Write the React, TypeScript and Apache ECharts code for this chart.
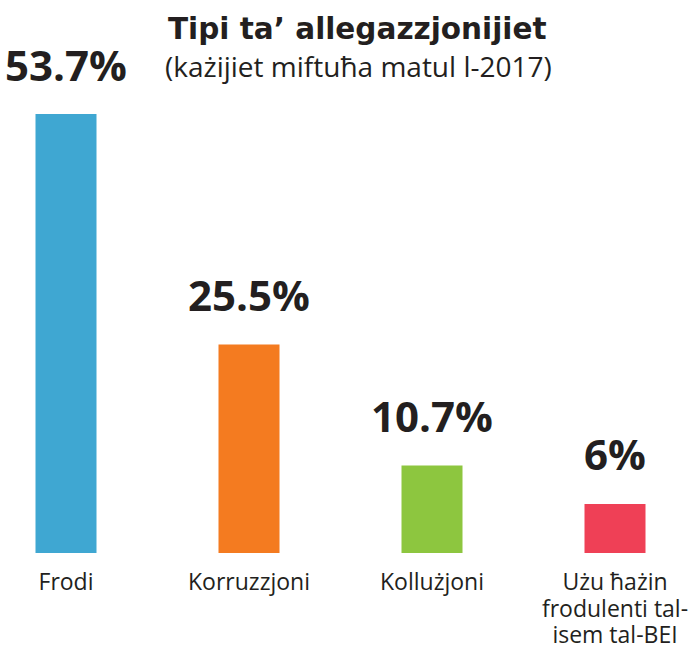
import React, { useEffect, useRef } from "react";
import * as echarts from "echarts";

const categories = ["Frodi", "Korruzzjoni", "Kollużjoni", "Użu ħażin\nfrodulenti tal-\nisem tal-BEI"];
const values = [53.7, 25.5, 10.7, 6];
const valueLabels = ["53.7%", "25.5%", "10.7%", "6%"];
const colors = ["#3fa7d2", "#f47b20", "#8dc63f", "#ef4056"];
const titleText = "Tipi ta’ allegazzjonijiet";
const subtitleText = "(każijiet miftuħa matul l-2017)";

const FONT = "'Open Sans', sans-serif";
const TITLE_FONT = "'DejaVu Sans', sans-serif";
const TEXT = "#231f20";

export default function App() {
  const ref = useRef<HTMLDivElement>(null);
  useEffect(() => {
    if (!ref.current) return;
    const chart = echarts.init(ref.current, undefined, { renderer: "svg" });
    chart.setOption({
      animation: false,
      backgroundColor: "#ffffff",
      title: [
        {
          text: titleText,
          left: 163,
          top: 9,
          textStyle: { fontFamily: TITLE_FONT, fontWeight: "bold", fontSize: 29.5, color: TEXT },
        },
        {
          text: subtitleText,
          left: 160,
          top: 47,
          textStyle: { fontFamily: FONT, fontWeight: "normal", fontSize: 28, color: TEXT },
        },
      ],
      grid: { left: -25.5, width: 732, top: 62.5, height: 490.5, outerBoundsMode: "none", containLabel: false },
      xAxis: {
        type: "category",
        data: categories,
        axisLine: { show: false },
        axisTick: { show: false },
        axisLabel: {
          interval: 0,
          margin: 15,
          fontFamily: FONT,
          fontSize: 23,
          lineHeight: 26.5,
          color: TEXT,
        },
      },
      yAxis: { type: "value", min: 0, max: 60, show: false, splitLine: { show: false } },
      series: [
        {
          type: "bar",
          barWidth: 61,
          data: values.map((v, i) => ({ value: v, itemStyle: { color: colors[i] } })),
          label: {
            show: true,
            position: "top",
            distance: 29,
            formatter: (p: any) => valueLabels[p.dataIndex],
            fontFamily: FONT,
            fontWeight: "bold",
            fontSize: 42,
            color: TEXT,
          },
        },
      ],
    });
    return () => chart.dispose();
  }, []);
  return (
    <div
      ref={ref}
      style={{ position: "absolute", left: 0, top: 0, width: 698, height: 650 }}
    />
  );
}
